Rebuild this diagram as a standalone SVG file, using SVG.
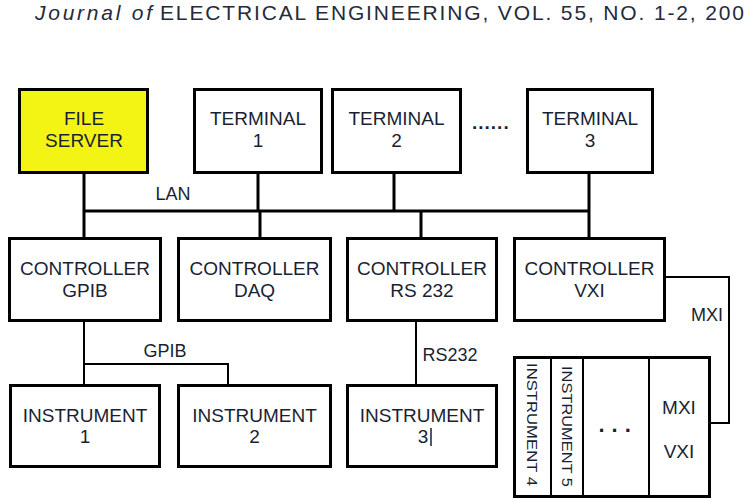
<svg xmlns="http://www.w3.org/2000/svg" width="747" height="499" viewBox="0 0 747 499">
<style>
.box{fill:#fff;stroke:#000;stroke-width:3}
.t{font-family:"Liberation Sans",Arial,sans-serif;font-size:19px;fill:#1a1f33;text-anchor:middle}
.lbl{font-family:"Liberation Sans",Arial,sans-serif;font-size:18px;fill:#1a1f33;text-anchor:middle}
.vt{font-family:"Liberation Sans",Arial,sans-serif;font-size:15px;fill:#1a1f33}
.hdr{font-family:"Liberation Sans",Arial,sans-serif;font-size:21px;fill:#262a3a}
.thick{fill:none;stroke:#000;stroke-width:3}
.thin{fill:none;stroke:#000;stroke-width:2}
</style>
<rect width="747" height="499" fill="#fff"/>
<g id="header">
<text class="hdr" x="35" y="20" font-style="italic" fill="#3a4058" textLength="117" lengthAdjust="spacing">Journal of</text>
<text class="hdr" x="160" y="20" textLength="584" lengthAdjust="spacing">ELECTRICAL ENGINEERING, VOL. 55, NO. 1-2, 200</text>
</g>
<g id="connectors">
<path class="thick" d="M84,174V211M258,174V211M394,174V211M589,174V211M84,211H589M84,211V237M260,211V237M421,211V237M589,211V237"/>
<path class="thin" d="M84,322V385M84,364H228V385M416,322V385M666,277H729V423H710"/>
<text class="lbl" x="173" y="200">LAN</text>
<text class="lbl" x="165" y="357">GPIB</text>
<text class="lbl" x="450" y="361">RS232</text>
<text class="lbl" x="707" y="321">MXI</text>
</g>
<g id="file-server">
<rect class="box" x="19.5" y="89.5" width="128" height="83" style="fill:#f4f414"/>
<text class="t" x="84" y="125">FILE</text>
<text class="t" x="84" y="147">SERVER</text>
</g>
<g id="terminal-1">
<rect class="box" x="194.5" y="89.5" width="127" height="83"/>
<text class="t" x="258" y="125">TERMINAL</text>
<text class="t" x="258" y="147">1</text>
</g>
<g id="terminal-2">
<rect class="box" x="332.5" y="89.5" width="128" height="83"/>
<text class="t" x="396.5" y="125">TERMINAL</text>
<text class="t" x="396.5" y="147">2</text>
</g>
<text x="472" y="129" font-family="Liberation Sans,Arial,sans-serif" font-size="19" font-weight="bold" fill="#1a1f33" letter-spacing="1">......</text>
<g id="terminal-3">
<rect class="box" x="527.5" y="89.5" width="125" height="83"/>
<text class="t" x="590" y="125">TERMINAL</text>
<text class="t" x="590" y="147">3</text>
</g>
<g id="controller-gpib">
<rect class="box" x="9.5" y="238.5" width="151" height="82"/>
<text class="t" x="85" y="275">CONTROLLER</text>
<text class="t" x="85" y="297">GPIB</text>
</g>
<g id="controller-daq">
<rect class="box" x="178.5" y="238.5" width="152" height="82"/>
<text class="t" x="254.5" y="275">CONTROLLER</text>
<text class="t" x="254.5" y="297">DAQ</text>
</g>
<g id="controller-rs232">
<rect class="box" x="347.5" y="238.5" width="149" height="82"/>
<text class="t" x="422" y="275">CONTROLLER</text>
<text class="t" x="422" y="297">RS 232</text>
</g>
<g id="controller-vxi">
<rect class="box" x="514.5" y="238.5" width="150" height="82"/>
<text class="t" x="589.5" y="275">CONTROLLER</text>
<text class="t" x="589.5" y="297">VXI</text>
</g>
<g id="instrument-1">
<rect class="box" x="10.5" y="385.5" width="149" height="81"/>
<text class="t" x="85" y="422">INSTRUMENT</text>
<text class="t" x="85" y="443">1</text>
</g>
<g id="instrument-2">
<rect class="box" x="178.5" y="385.5" width="152" height="81"/>
<text class="t" x="254.5" y="422">INSTRUMENT</text>
<text class="t" x="254.5" y="443">2</text>
</g>
<g id="instrument-3">
<rect class="box" x="347.5" y="385.5" width="149" height="81"/>
<text class="t" x="422" y="422">INSTRUMENT</text>
<text class="t" x="423" y="443">3</text>
<line x1="431" y1="428" x2="431" y2="446" stroke="#1a1f33" stroke-width="1.5"/>
</g>
<g id="vxi-crate">
<rect class="box" x="514.5" y="357.5" width="195" height="139"/>
<path class="thin" d="M551,358V496M583,358V496M649,358V496"/>
<text class="vt" transform="translate(527,363) rotate(90)" textLength="123" lengthAdjust="spacingAndGlyphs">INSTRUMENT 4</text>
<text class="vt" transform="translate(562,366) rotate(90)" textLength="121" lengthAdjust="spacingAndGlyphs">INSTRUMENT 5</text>
<text x="598.5" y="432" font-family="Liberation Sans,Arial,sans-serif" font-size="22" font-weight="bold" fill="#1a1f33" letter-spacing="7">...</text>
<text class="t" x="679" y="414">MXI</text>
<text class="t" x="679" y="458">VXI</text>
</g>
</svg>
